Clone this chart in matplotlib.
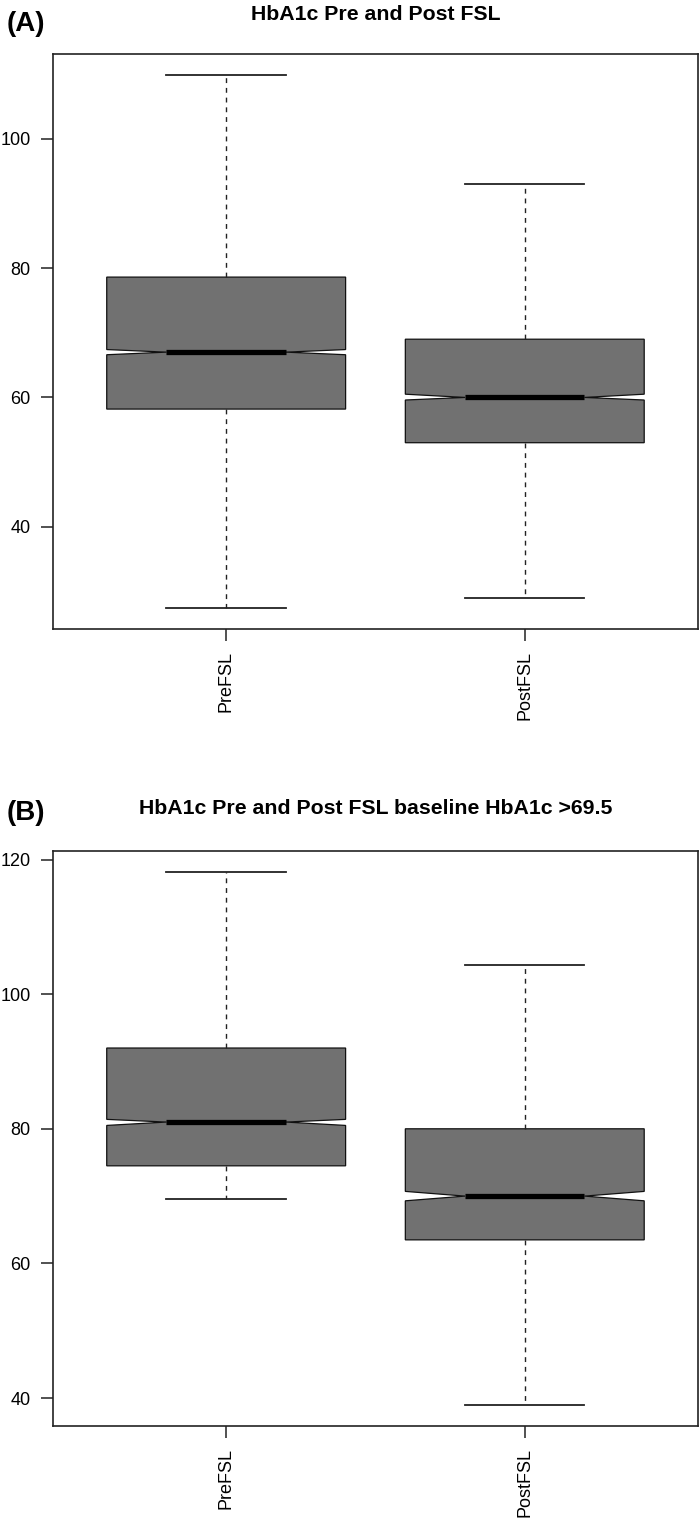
import numpy as np
import matplotlib
matplotlib.use("Agg")
import matplotlib.pyplot as plt

plt.rcParams['font.family'] = ['Liberation Sans', 'DejaVu Sans']

groups = ["PreFSL", "PostFSL"]

# panel A: all patients
a_lo = [27.5, 29.0]
a_q1 = [58.2, 53.0]
a_med = [67.0, 60.0]
a_cilo = [66.6, 59.6]
a_cihi = [67.4, 60.5]
a_q3 = [78.6, 69.0]
a_hi = [109.8, 93.0]
a_ticks = [40, 60, 80, 100]

# panel B: baseline HbA1c > 69.5
b_lo = [69.5, 39.0]
b_q1 = [74.5, 63.5]
b_med = [81.0, 70.0]
b_cilo = [80.5, 69.3]
b_cihi = [81.4, 70.7]
b_q3 = [92.0, 80.0]
b_hi = [118.1, 104.3]
b_ticks = [40, 60, 80, 100, 120]


def make_stats(lo, q1, med, cilo, cihi, q3, hi):
    out = []
    for i in range(len(groups)):
        out.append(dict(whislo=lo[i], q1=q1[i], med=med[i], cilo=cilo[i],
                        cihi=cihi[i], q3=q3[i], whishi=hi[i], fliers=[],
                        label=groups[i]))
    return out


def draw(ax, stats, ticks, title, tag, tag_y, title_pad):
    n = len(stats)
    ax.bxp(stats, positions=np.arange(1, n + 1), widths=0.8,
           patch_artist=True, shownotches=True, showfliers=False,
           boxprops=dict(facecolor='#717171', edgecolor='#111111', lw=0.9),
           whiskerprops=dict(color='#222222', lw=1.0, ls=(0, (3.5, 3.5))),
           capprops=dict(color='#222222', lw=1.3),
           medianprops=dict(color='black', lw=3.8, solid_capstyle='butt'))
    # R style range: data range plus 4% on each side
    lo = min(s['whislo'] for s in stats)
    hi = max(s['whishi'] for s in stats)
    pad = 0.04 * (hi - lo)
    ax.set_ylim(lo - pad, hi + pad)
    ax.set_xlim(0.5 - 0.04 * n, n + 0.5 + 0.04 * n)
    ax.set_yticks(ticks)
    ax.set_xticks(np.arange(1, n + 1))
    ax.set_xticklabels(groups, rotation=90)
    ax.tick_params(axis='both', length=8.5, width=1.1, color='#222222',
                   labelsize=13, pad=7.5)
    for sp in ax.spines.values():
        sp.set_linewidth(1.2)
        sp.set_color('#222222')
    ax.set_title(title, fontsize=15.3, fontweight='bold', pad=title_pad)
    ax.text(-0.0713, tag_y, tag, transform=ax.transAxes, fontsize=20,
            fontweight='bold', ha='left', va='center')


fig = plt.figure(figsize=(6.99, 15.2), dpi=100)
ax1 = fig.add_axes([0.0758, 0.5862, 0.9227, 0.3783])
ax2 = fig.add_axes([0.0758, 0.0618, 0.9227, 0.3783])

draw(ax1, make_stats(a_lo, a_q1, a_med, a_cilo, a_cihi, a_q3, a_hi),
     a_ticks, "HbA1c Pre and Post FSL", "(A)", 1.052, 24.5)
draw(ax2, make_stats(b_lo, b_q1, b_med, b_cilo, b_cihi, b_q3, b_hi),
     b_ticks, "HbA1c Pre and Post FSL baseline HbA1c >69.5", "(B)", 1.066, 27)

fig.savefig("out.png", dpi=100)
